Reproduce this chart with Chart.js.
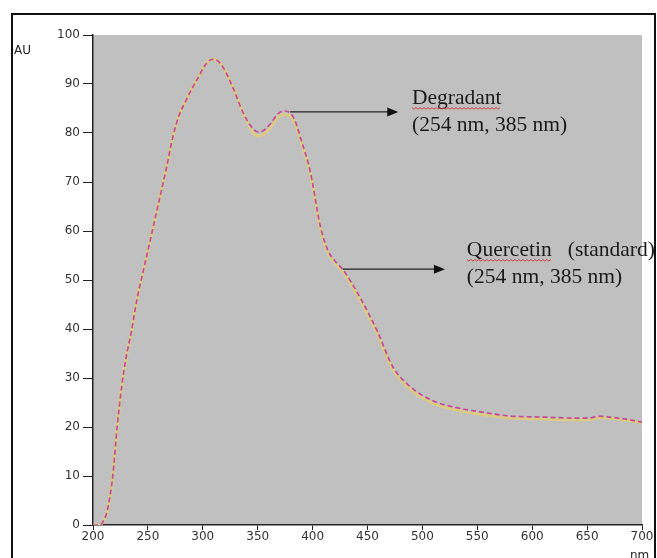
<!DOCTYPE html>
<html>
<head>
<meta charset="utf-8">
<script src="https://cdn.jsdelivr.net/npm/chart.js@4"></script>
<style>
  html, body { margin: 0; padding: 0; background: #fff; }
  #wrap { width: 657px; height: 558px; }
</style>
</head>
<body>
<div id="wrap"><canvas id="uvChart" width="657" height="558"></canvas></div>
<script>
// wavelength (nm)
const wavelengths = [200, 206, 210, 213, 218, 222, 226, 230, 235, 240, 247, 258, 267, 273, 279, 284, 290, 295, 302, 308, 313, 318,
  327, 337, 346, 351, 356, 362, 368, 373, 379, 384, 389, 398, 407, 414, 420, 428, 443, 459, 473, 489,
  510, 530, 550, 577, 613, 640, 650, 662, 671, 685, 700];

// absorbance (AU)
const degradant = [0, 0, 1, 3, 10, 20, 28, 34, 39.5, 46, 53, 64, 73, 79.5, 84, 86.3, 89, 91, 93.8, 95, 94.8, 93.6,
  89.5, 84, 80.8, 80.2, 80.6, 82, 83.8, 84.5, 84.2, 82.5, 79, 72, 61, 56, 54, 52, 46.5, 39.5, 32.3, 28.2,
  25.3, 24, 23.2, 22.3, 22, 21.8, 21.8, 22.2, 22, 21.6, 21];
const quercetin = [0, 0, 1, 3, 10, 20, 28, 34, 39.5, 46, 53, 64, 73, 79.5, 84, 86.3, 89, 91, 93.8, 95, 94.8, 93.6,
  89.5, 84, 80, 79.4, 79.8, 81.2, 83, 83.8, 83.6, 82, 78.6, 71.6, 60.6, 55.6, 53.6, 51.6, 46, 39, 31.8, 27.7,
  24.8, 23.5, 22.7, 21.9, 21.6, 21.5, 21.5, 21.9, 21.8, 21.4, 20.8];

const yTicks = [0, 10, 20, 30, 40, 50, 60, 70, 80, 90, 100];
const xTicks = [200, 250, 300, 350, 400, 450, 500, 550, 600, 650, 700];

// annotation anchors in data units
const notes = [
  { from: [379.5, 84.3], to: 478, text: ["Degradant", "(254 nm, 385 nm)"], tx: 490.5, ty: 86, squiggle: "Degradant" },
  { from: [427.5, 52.2], to: 520.5, text: ["Quercetin   (standard)", "(254 nm, 385 nm)"], tx: 540.5, ty: 55, squiggle: "Quercetin" }
];

const tickFont = { family: "'DejaVu Sans', Verdana, sans-serif", size: 12 };

const frame = {
  id: "frame",
  beforeDraw(chart) {
    const { ctx, chartArea: a } = chart;
    ctx.save();
    ctx.fillStyle = "#c0c0c0";
    ctx.fillRect(a.left, a.top, a.right - a.left, a.bottom - a.top);
    ctx.restore();
  },
  afterDraw(chart) {
    const { ctx, scales } = chart;
    const x = scales.x, y = scales.y;
    ctx.save();
    // outer box
    ctx.strokeStyle = "#111";
    ctx.lineWidth = 2;
    ctx.strokeRect(12, 14, 643, 600);
    // axis titles
    ctx.fillStyle = "#222";
    ctx.font = "12px 'DejaVu Sans', Verdana, sans-serif";
    ctx.textBaseline = "middle";
    ctx.textAlign = "left";
    ctx.fillText("AU", 14, 51);
    ctx.fillText("nm", 630, 556);
    // annotations
    notes.forEach(n => {
      const x0 = x.getPixelForValue(n.from[0]);
      const y0 = y.getPixelForValue(n.from[1]);
      const x1 = x.getPixelForValue(n.to);
      ctx.strokeStyle = "#222";
      ctx.fillStyle = "#111";
      ctx.lineWidth = 1.2;
      ctx.beginPath();
      ctx.moveTo(x0, y0);
      ctx.lineTo(x1 - 9, y0);
      ctx.stroke();
      ctx.beginPath();
      ctx.moveTo(x1, y0);
      ctx.lineTo(x1 - 11, y0 - 4.5);
      ctx.lineTo(x1 - 11, y0 + 4.5);
      ctx.closePath();
      ctx.fill();

      const tx = x.getPixelForValue(n.tx);
      const ty = y.getPixelForValue(n.ty);
      ctx.font = "21.5px 'Liberation Serif', 'Times New Roman', serif";
      ctx.textBaseline = "alphabetic";
      ctx.fillStyle = "#1a1a1a";
      ctx.fillText(n.text[0], tx, ty);
      ctx.fillText(n.text[1], tx, ty + 27);
      // spell-check squiggle
      const w = ctx.measureText(n.squiggle).width;
      ctx.strokeStyle = "#d02020";
      ctx.lineWidth = 0.8;
      ctx.beginPath();
      for (let i = 0; i <= w; i += 2) {
        const yy = ty + 4 + ((i / 2) % 2 === 0 ? 0 : 1.6);
        if (i === 0) ctx.moveTo(tx + i, yy); else ctx.lineTo(tx + i, yy);
      }
      ctx.stroke();
    });
    ctx.restore();
  }
};

const toPoints = vals => wavelengths.map((w, i) => ({ x: w, y: vals[i] }));

new Chart(document.getElementById("uvChart"), {
  type: "line",
  data: {
    datasets: [
      {
        label: "Degradant",
        data: toPoints(degradant),
        borderColor: "#c24a98",
        borderWidth: 1.7,
        borderDash: [5, 3],
        pointRadius: 0,
        cubicInterpolationMode: "monotone"
      },
      {
        label: "Quercetin (standard)",
        data: toPoints(quercetin),
        borderColor: "#dccb86",
        borderWidth: 3,
        pointRadius: 0,
        cubicInterpolationMode: "monotone"
      }
    ]
  },
  options: {
    responsive: false,
    animation: false,
    layout: { padding: { left: 0, top: 35, right: 15, bottom: 0 } },
    plugins: { legend: { display: false }, tooltip: { enabled: false } },
    scales: {
      x: {
        type: "linear",
        min: 200,
        max: 700,
        afterBuildTicks: s => { s.ticks = xTicks.map(v => ({ value: v })); },
        afterFit: s => { s.height = 33; },
        grid: { drawOnChartArea: false, drawTicks: true, tickLength: 5, color: "#222" },
        border: { color: "#222", width: 1.5 },
        ticks: { color: "#333", font: tickFont, padding: 0, maxRotation: 0 }
      },
      y: {
        min: 0,
        max: 100,
        afterBuildTicks: s => { s.ticks = yTicks.map(v => ({ value: v })); },
        afterFit: s => { s.width = 93; },
        grid: { drawOnChartArea: false, drawTicks: true, tickLength: 10, color: "#222" },
        border: { color: "#222", width: 1.5 },
        ticks: { color: "#333", font: tickFont, padding: 3 }
      }
    }
  },
  plugins: [frame]
});
</script>
</body>
</html>
